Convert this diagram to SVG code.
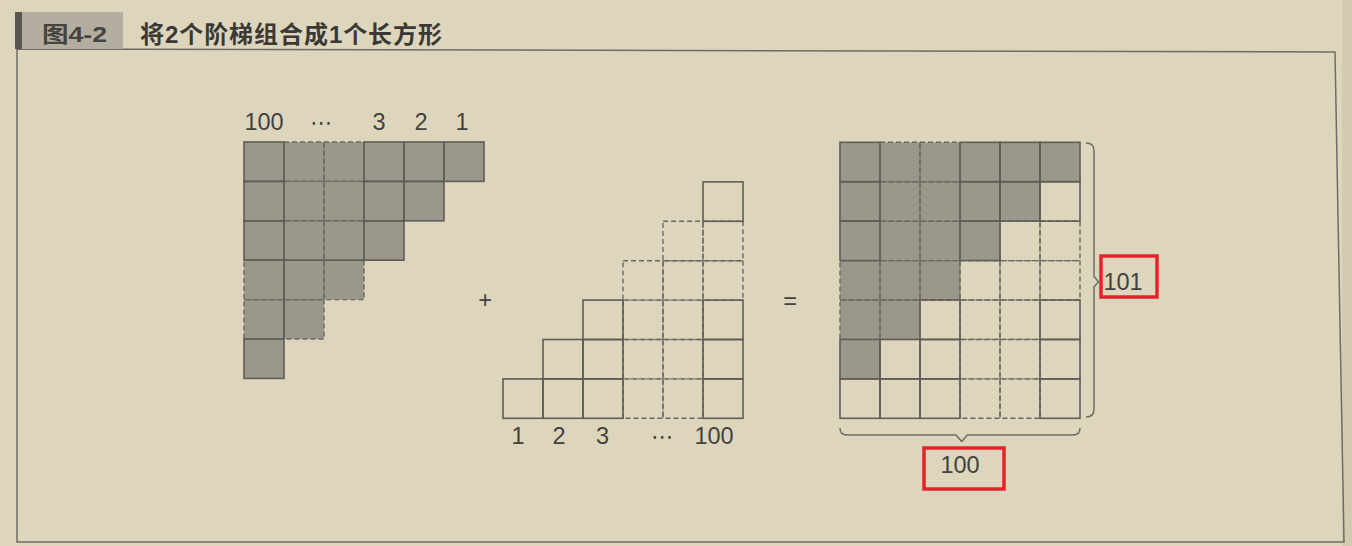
<svg xmlns="http://www.w3.org/2000/svg" width="1352" height="546" viewBox="0 0 1352 546">
<style>
.sh{fill:#9c978b;stroke:none}
.s{fill:none;stroke:#5f5d58;stroke-width:1.6}
.d{fill:none;stroke:#6a6862;stroke-width:1.4;stroke-dasharray:5 3}
.ln{fill:none;stroke:#5f5d58;stroke-width:1.6}
.br{fill:none;stroke:#6e6c66;stroke-width:1.5;stroke-linejoin:round}
.lb{font-family:"Liberation Sans","Noto Sans CJK SC",sans-serif;font-size:23.5px;fill:#42413d;text-anchor:middle}
.el{font-family:"DejaVu Sans",sans-serif;font-size:22px;fill:#42413d;text-anchor:middle}
.red{fill:none;stroke:#e3232b;stroke-width:3.5}
</style>
<defs>
<rect id="c" width="40" height="39.4"/>
</defs>
<rect x="0" y="0" width="1352" height="546" fill="#ddd6bd"/>
<rect x="1342" y="0" width="10" height="546" fill="#d3cbb1"/>
<g id="frame">
<path d="M17,49 L1335,52 L1344,542 L17,542 Z" fill="none" stroke="#6e6c66" stroke-width="1.5"/>
</g>
<g id="title">
<rect x="15" y="12" width="108" height="37" fill="#b3ae9f"/>
<rect x="15" y="12" width="7" height="37" fill="#58564f"/>
<text x="42" y="42" font-family="'Liberation Sans','Noto Sans CJK SC',sans-serif" font-size="22" font-weight="bold" fill="#45443f" textLength="65" lengthAdjust="spacingAndGlyphs">图4-2</text>
<text x="140" y="43" font-family="'Liberation Sans','Noto Sans CJK SC',sans-serif" font-size="24" font-weight="bold" fill="#3a3936" textLength="302" lengthAdjust="spacing">将2个阶梯组合成1个长方形</text>
</g>
<g id="left-staircase">
<g class="sh">
<rect x="244" y="142" width="240" height="39.4"/>
<rect x="244" y="181.4" width="200" height="39.4"/>
<rect x="244" y="220.8" width="160" height="39.4"/>
<rect x="244" y="260.2" width="120" height="39.4"/>
<rect x="244" y="299.6" width="80" height="39.4"/>
<rect x="244" y="339" width="40" height="39.4"/>
</g>
<g class="d">
<use href="#c" x="284" y="142"/><use href="#c" x="324" y="142"/>
<use href="#c" x="284" y="181.4"/><use href="#c" x="324" y="181.4"/>
<use href="#c" x="284" y="220.8"/><use href="#c" x="324" y="220.8"/>
<use href="#c" x="244" y="260.2"/><use href="#c" x="284" y="260.2"/><use href="#c" x="324" y="260.2"/>
<use href="#c" x="244" y="299.6"/><use href="#c" x="284" y="299.6"/>
</g>
<g class="s">
<use href="#c" x="244" y="142"/><use href="#c" x="364" y="142"/><use href="#c" x="404" y="142"/><use href="#c" x="444" y="142"/>
<use href="#c" x="244" y="181.4"/><use href="#c" x="364" y="181.4"/><use href="#c" x="404" y="181.4"/>
<use href="#c" x="244" y="220.8"/><use href="#c" x="364" y="220.8"/>
<use href="#c" x="244" y="339"/>
</g>
<path class="ln" d="M284,260.2 V339 M244,260.2 H364"/>
</g>
<g id="right-staircase">
<g class="d">
<use href="#c" x="623" y="378.9"/><use href="#c" x="623" y="339.5"/><use href="#c" x="623" y="300.1"/><use href="#c" x="623" y="260.7"/>
<use href="#c" x="663" y="378.9"/><use href="#c" x="663" y="339.5"/><use href="#c" x="663" y="300.1"/><use href="#c" x="663" y="260.7"/><use href="#c" x="663" y="221.3"/>
<use href="#c" x="703" y="260.7"/><use href="#c" x="703" y="221.3"/>
</g>
<g class="s">
<use href="#c" x="503" y="378.9"/>
<use href="#c" x="543" y="378.9"/><use href="#c" x="543" y="339.5"/>
<use href="#c" x="583" y="378.9"/><use href="#c" x="583" y="339.5"/><use href="#c" x="583" y="300.1"/>
<use href="#c" x="703" y="378.9"/><use href="#c" x="703" y="339.5"/><use href="#c" x="703" y="300.1"/><use href="#c" x="703" y="181.9"/>
</g>
</g>
<g id="rectangle">
<g class="sh">
<rect x="840" y="142.3" width="240" height="39.43"/>
<rect x="840" y="181.7" width="200" height="39.43"/>
<rect x="840" y="221.2" width="160" height="39.43"/>
<rect x="840" y="260.6" width="120" height="39.43"/>
<rect x="840" y="300.0" width="80" height="39.43"/>
<rect x="840" y="339.5" width="40" height="39.43"/>
</g>
<g class="d">
<use href="#c" x="840" y="260.6"/><use href="#c" x="840" y="300.0"/>
<use href="#c" x="880" y="142.3"/><use href="#c" x="880" y="181.7"/><use href="#c" x="880" y="221.2"/><use href="#c" x="880" y="260.6"/><use href="#c" x="880" y="300.0"/>
<use href="#c" x="920" y="142.3"/><use href="#c" x="920" y="181.7"/><use href="#c" x="920" y="221.2"/><use href="#c" x="920" y="260.6"/>
<use href="#c" x="960" y="260.6"/><use href="#c" x="960" y="300.0"/><use href="#c" x="960" y="339.5"/><use href="#c" x="960" y="378.9"/>
<use href="#c" x="1000" y="221.2"/><use href="#c" x="1000" y="260.6"/><use href="#c" x="1000" y="300.0"/><use href="#c" x="1000" y="339.5"/><use href="#c" x="1000" y="378.9"/>
<use href="#c" x="1040" y="221.2"/><use href="#c" x="1040" y="260.6"/>
</g>
<g class="s">
<use href="#c" x="840" y="142.3"/><use href="#c" x="840" y="181.7"/><use href="#c" x="840" y="221.2"/><use href="#c" x="840" y="339.5"/><use href="#c" x="840" y="378.9"/>
<use href="#c" x="880" y="339.5"/><use href="#c" x="880" y="378.9"/>
<use href="#c" x="920" y="300.0"/><use href="#c" x="920" y="339.5"/><use href="#c" x="920" y="378.9"/>
<use href="#c" x="960" y="142.3"/><use href="#c" x="960" y="181.7"/><use href="#c" x="960" y="221.2"/>
<use href="#c" x="1000" y="142.3"/><use href="#c" x="1000" y="181.7"/>
<use href="#c" x="1040" y="142.3"/><use href="#c" x="1040" y="181.7"/><use href="#c" x="1040" y="300.0"/><use href="#c" x="1040" y="339.5"/><use href="#c" x="1040" y="378.9"/>
</g>
</g>
<g id="connectors">
<path class="br" d="M1086,143 Q1094,143 1094,151 L1094,276.5 L1098.5,281.7 L1094,287 L1094,409 Q1094,417 1086,417"/>
<path class="br" d="M840,428 Q840,435 847,435 L956,435 L961.7,441.5 L967.4,435 L1073,435 Q1080,435 1080,428"/>
</g>
<g id="labels">
<text class="lb" x="264" y="129.5">100</text>
<text class="el" x="321" y="129.5">⋯</text>
<text class="lb" x="379" y="129.5">3</text>
<text class="lb" x="421" y="129.5">2</text>
<text class="lb" x="462" y="129.5">1</text>
<text class="lb" x="518" y="444">1</text>
<text class="lb" x="559" y="444">2</text>
<text class="lb" x="602.5" y="444">3</text>
<text class="el" x="662" y="444">⋯</text>
<text class="lb" x="714" y="444">100</text>
<text class="lb" x="485" y="308" font-size="21">+</text>
<text class="lb" x="790" y="308.5" font-size="27">=</text>
<text class="lb" x="1123" y="290" font-size="23.5">101</text>
<text class="lb" x="960" y="473" font-size="23.5">100</text>
<rect class="red" x="1101" y="256" width="56" height="41"/>
<rect class="red" x="924" y="448" width="80" height="41"/>
</g>
</svg>
